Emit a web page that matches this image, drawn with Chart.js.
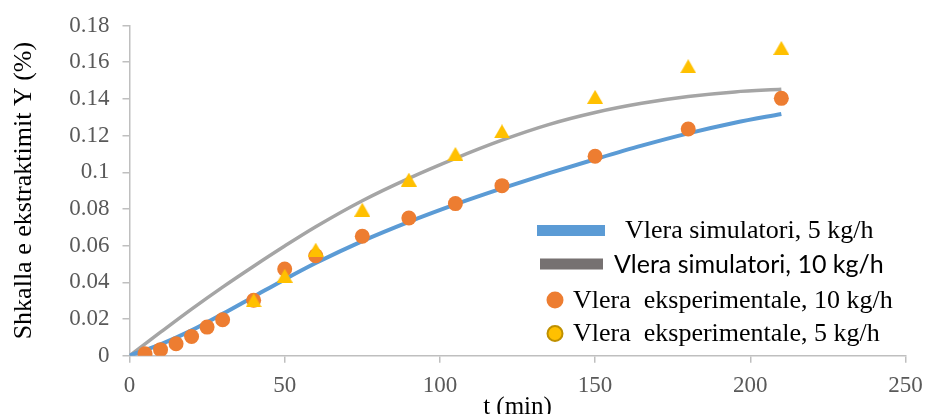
<!DOCTYPE html>
<html>
<head>
<meta charset="utf-8">
<script src="https://cdn.jsdelivr.net/npm/chart.js@4"></script>
<style>
html, body { margin: 0; padding: 0; background: #fff; }
</style>
</head>
<body>
<canvas id="myChart" width="925" height="414"></canvas>
<script>
// simulated curves (t in min, Y in %)
var simT = [0, 10, 20, 30, 40, 50, 60, 75, 90, 105, 120, 135, 150, 165, 180, 195, 210]
var sim5 = [0, 0.0062, 0.0138, 0.0228, 0.0322, 0.0416, 0.0505, 0.0625, 0.073, 0.0825, 0.0912, 0.0994, 0.1071, 0.1145, 0.1212, 0.127, 0.1318]
var sim10 = [0, 0.0128, 0.0254, 0.0374, 0.0488, 0.0598, 0.0703, 0.0845, 0.0967, 0.1076, 0.1175, 0.126, 0.1326, 0.1376, 0.1413, 0.1438, 0.1452]

// experimental points
var expT10 = [5, 10, 15, 20, 25, 30, 40, 50, 60, 75, 90, 105, 120, 150, 180, 210]
var exp10 = [0.0011, 0.0033, 0.0065, 0.0105, 0.0156, 0.0196, 0.0302, 0.0473, 0.0545, 0.0651, 0.0751, 0.0829, 0.0927, 0.1087, 0.1236, 0.1403]
var expT5 = [40, 50, 60, 75, 90, 105, 120, 150, 180, 210]
var exp5 = [0.0302, 0.0436, 0.0578, 0.0796, 0.096, 0.110, 0.1223, 0.1411, 0.1578, 0.1678]

var labels = ['Vlera simulatori, 5 kg/h', 'Vlera simulatori, 10 kg/h', 'Vlera  eksperimentale, 10 kg/h', 'Vlera  eksperimentale, 5 kg/h']
var yTicks = [0, 0.02, 0.04, 0.06, 0.08, 0.1, 0.12, 0.14, 0.16, 0.18]

function pts(xs, ys) {
  return xs.map(function (x, i) { return {x: x, y: ys[i]} })
}

// excel style triangle marker
function triangle(w, h, color) {
  var c = document.createElement('canvas')
  c.width = w; c.height = h
  var g = c.getContext('2d')
  g.fillStyle = color
  g.beginPath()
  g.moveTo(w / 2, 0); g.lineTo(w, h); g.lineTo(0, h)
  g.closePath(); g.fill()
  return c
}

var serif = '"Liberation Serif", "Times New Roman", serif'

// legend drawn inside the plot, like the excel one
var excelLegend = {
  id: 'excelLegend',
  afterDraw: function (chart) {
    var ctx = chart.ctx
    var ds = chart.data.datasets
    var items = [
      {bar: '#5B9BD5', x0: 537, x1: 605, y: 230.5, tx: 625, font: '26px ' + serif},
      {bar: '#767171', x0: 540, x1: 603, y: 264, tx: 614, font: '25px Lato'},
      {dot: '#ED7D31', x: 555, y: 300, r: 8.5, tx: 573, font: '26px ' + serif},
      {dot: '#FFC000', border: '#BF9000', x: 555, y: 333.5, r: 7.5, tx: 573, font: '26px ' + serif}
    ]
    ctx.save()
    items.forEach(function (it, i) {
      if (it.bar) {
        ctx.fillStyle = it.bar
        ctx.fillRect(it.x0, it.y - 5.5, it.x1 - it.x0, 11)
      } else {
        ctx.beginPath()
        ctx.arc(it.x, it.y, it.r, 0, Math.PI * 2)
        ctx.fillStyle = it.dot
        ctx.fill()
        if (it.border) {
          ctx.lineWidth = 2
          ctx.strokeStyle = it.border
          ctx.stroke()
        }
      }
      ctx.font = it.font
      ctx.fillStyle = '#000'
      ctx.textBaseline = 'middle'
      ctx.textAlign = 'left'
      ctx.fillText(ds[i].label, it.tx, it.y + 1)
    })
    ctx.restore()
  }
}

var ctx = document.getElementById('myChart').getContext('2d')
var chart = new Chart(ctx, {
  type: 'scatter',
  data: {
    datasets: [{
      label: labels[0],
      data: pts(simT, sim5),
      showLine: true,
      borderColor: '#5B9BD5',
      borderWidth: 4,
      pointRadius: 0,
      cubicInterpolationMode: 'monotone',
      order: 2
    }, {
      label: labels[1],
      data: pts(simT, sim10),
      showLine: true,
      borderColor: '#A5A5A5',
      borderWidth: 3.5,
      pointRadius: 0,
      cubicInterpolationMode: 'monotone',
      order: 3
    }, {
      label: labels[2],
      data: pts(expT10, exp10),
      backgroundColor: '#ED7D31',
      borderWidth: 0,
      pointRadius: 7.5,
      order: 1
    }, {
      label: labels[3],
      data: pts(expT5, exp5),
      pointStyle: triangle(16, 14, '#FFC000'),
      backgroundColor: '#FFC000',
      pointRadius: 8,
      order: 0
    }]
  },
  options: {
    responsive: false,
    animation: false,
    devicePixelRatio: 1,
    layout: { padding: { left: 0, right: 19.5, top: 25.5, bottom: 0 } },
    plugins: {
      legend: { display: false },
      tooltip: { enabled: false }
    },
    scales: {
      x: {
        type: 'linear',
        min: 0,
        max: 250,
        afterFit: function (s) {
          s.height = 58.3
          s.paddingLeft = 0
          s.paddingRight = 0
        },
        ticks: {
          stepSize: 50,
          color: '#595959',
          font: { family: serif, size: 23 },
          padding: 9
        },
        grid: { drawOnChartArea: false, color: '#bfbfbf', lineWidth: 1.5, tickLength: 7 },
        border: { color: '#bfbfbf', width: 1.5 },
        title: {
          display: true,
          text: 't (min)',
          color: '#000',
          font: { family: serif, size: 25 },
          padding: { top: 0, bottom: -8 }
        }
      },
      y: {
        min: 0,
        max: 0.18,
        afterFit: function (s) {
          s.width = 129.5
          s.paddingTop = 0
          s.paddingBottom = 0
        },
        afterBuildTicks: function (s) {
          s.ticks = yTicks.map(function (v) { return {value: v} })
        },
        ticks: {
          color: '#595959',
          font: { family: serif, size: 23 },
          padding: 13,
          callback: function (v) { return String(Number(v.toFixed(2))) }
        },
        grid: { drawOnChartArea: false, color: '#bfbfbf', lineWidth: 1.5, tickLength: 7 },
        border: { color: '#bfbfbf', width: 1.5 },
        title: {
          display: true,
          text: 'Shkalla e ekstraktimit Y (%)',
          color: '#000',
          font: { family: serif, size: 26 },
          padding: { top: 9, bottom: 0 }
        }
      }
    }
  },
  plugins: [excelLegend]
})
</script>
</body>
</html>
